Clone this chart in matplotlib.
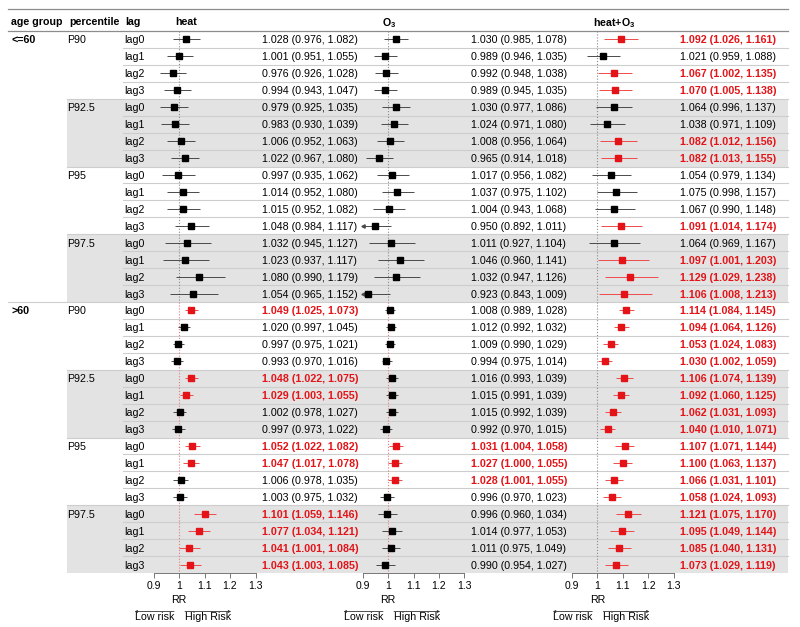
import numpy as np
import matplotlib.pyplot as plt
from matplotlib.patches import Rectangle
from matplotlib.transforms import blended_transform_factory

plt.rcParams['font.family'] = ['Liberation Sans', 'DejaVu Sans']
plt.rcParams['mathtext.fontset'] = 'custom'
plt.rcParams['mathtext.rm'] = 'Liberation Sans'
plt.rcParams['mathtext.bf'] = 'Liberation Sans:bold'

age_groups = ['<=60', '>60']
percentiles = ['P90', 'P92.5', 'P95', 'P97.5']
lags = ['lag0', 'lag1', 'lag2', 'lag3']

# rows: age group -> percentile -> lag
heat_est = [1.028, 1.001, 0.976, 0.994, 0.979, 0.983, 1.006, 1.022,
            0.997, 1.014, 1.015, 1.048, 1.032, 1.023, 1.080, 1.054,
            1.049, 1.020, 0.997, 0.993, 1.048, 1.029, 1.002, 0.997,
            1.052, 1.047, 1.006, 1.003, 1.101, 1.077, 1.041, 1.043]
heat_lo = [0.976, 0.951, 0.926, 0.943, 0.925, 0.930, 0.952, 0.967,
           0.935, 0.952, 0.952, 0.984, 0.945, 0.937, 0.990, 0.965,
           1.025, 0.997, 0.975, 0.970, 1.022, 1.003, 0.978, 0.973,
           1.022, 1.017, 0.978, 0.975, 1.059, 1.034, 1.001, 1.003]
heat_hi = [1.082, 1.055, 1.028, 1.047, 1.035, 1.039, 1.063, 1.080,
           1.062, 1.080, 1.082, 1.117, 1.127, 1.117, 1.179, 1.152,
           1.073, 1.045, 1.021, 1.016, 1.075, 1.055, 1.027, 1.022,
           1.082, 1.078, 1.035, 1.032, 1.146, 1.121, 1.084, 1.085]

o3_est = [1.030, 0.989, 0.992, 0.989, 1.030, 1.024, 1.008, 0.965,
          1.017, 1.037, 1.004, 0.950, 1.011, 1.046, 1.032, 0.923,
          1.008, 1.012, 1.009, 0.994, 1.016, 1.015, 1.015, 0.992,
          1.031, 1.027, 1.028, 0.996, 0.996, 1.014, 1.011, 0.990]
o3_lo = [0.985, 0.946, 0.948, 0.945, 0.977, 0.971, 0.956, 0.914,
         0.956, 0.975, 0.943, 0.892, 0.927, 0.960, 0.947, 0.843,
         0.989, 0.992, 0.990, 0.975, 0.993, 0.991, 0.992, 0.970,
         1.004, 1.000, 1.001, 0.970, 0.960, 0.977, 0.975, 0.954]
o3_hi = [1.078, 1.035, 1.038, 1.035, 1.086, 1.080, 1.064, 1.018,
         1.082, 1.102, 1.068, 1.011, 1.104, 1.141, 1.126, 1.009,
         1.028, 1.032, 1.029, 1.014, 1.039, 1.039, 1.039, 1.015,
         1.058, 1.055, 1.055, 1.023, 1.034, 1.053, 1.049, 1.027]

both_est = [1.092, 1.021, 1.067, 1.070, 1.064, 1.038, 1.082, 1.082,
            1.054, 1.075, 1.067, 1.091, 1.064, 1.097, 1.129, 1.106,
            1.114, 1.094, 1.053, 1.030, 1.106, 1.092, 1.062, 1.040,
            1.107, 1.100, 1.066, 1.058, 1.121, 1.095, 1.085, 1.073]
both_lo = [1.026, 0.959, 1.002, 1.005, 0.996, 0.971, 1.012, 1.013,
           0.979, 0.998, 0.990, 1.014, 0.969, 1.001, 1.029, 1.008,
           1.084, 1.064, 1.024, 1.002, 1.074, 1.060, 1.031, 1.010,
           1.071, 1.063, 1.031, 1.024, 1.075, 1.049, 1.040, 1.029]
both_hi = [1.161, 1.088, 1.135, 1.138, 1.137, 1.109, 1.156, 1.155,
           1.134, 1.157, 1.148, 1.174, 1.167, 1.203, 1.238, 1.213,
           1.145, 1.126, 1.083, 1.059, 1.139, 1.125, 1.093, 1.071,
           1.144, 1.137, 1.101, 1.093, 1.170, 1.144, 1.131, 1.119]

xticks = [0.9, 1.0, 1.1, 1.2, 1.3]
xtick_labels = ['0.9', '1', '1.1', '1.2', '1.3']
xlim = (0.9, 1.3)

RED = '#E41317'
RED_LINE = '#EF4A4A'
BLACK_LINE = '#4A4A4A'
SHADE = '#E3E3E3'
FS = 7.7

W, H = 800, 627
top_px, bot_px = 31, 573
n_rows = len(age_groups) * len(percentiles) * len(lags)
row_px = (bot_px - top_px) / n_rows

fig = plt.figure(figsize=(W / 100, H / 100), dpi=100)

tab = fig.add_axes([0, 1 - bot_px / H, 1, (bot_px - top_px) / H])
tab.set_xlim(0, W)
tab.set_ylim(n_rows - 0.5, -0.5)
tab.axis('off')

def py(p):
    # pixel y -> row units
    return (p - top_px) / row_px - 0.5

right_edge = 788
# shaded percentile groups
for a in range(len(age_groups)):
    for p in (1, 3):
        start = a * 16 + p * 4
        tab.add_patch(Rectangle((66.5, start - 0.5), right_edge - 66.5, 4,
                                facecolor=SHADE, edgecolor='none', zorder=0))

# row separators
for b in range(1, n_rows):
    if b == 16:
        x0 = 8
    elif b % 4 == 0:
        x0 = 66.5
    else:
        x0 = 122.5
    tab.plot([x0, right_edge], [b - 0.5, b - 0.5], color='#CDCDCD', lw=0.8,
             zorder=1, clip_on=False)
tab.plot([8, right_edge], [-0.5, -0.5], color='#8C8C8C', lw=0.9, clip_on=False)
tab.plot([8, right_edge], [py(9.4), py(9.4)], color='#8C8C8C', lw=0.9,
         clip_on=False)

# header
hy = py(20.7)
hkw = dict(fontsize=FS, fontweight='bold', va='center_baseline')
tab.text(11, hy, 'age group', ha='left', **hkw)
tab.text(69, hy, 'percentile', ha='left', **hkw)
tab.text(125, hy, 'lag', ha='left', **hkw)
tab.text(186, hy, 'heat', ha='center', **hkw)
tab.text(389, hy, r'O$_{\mathbf{3}}$', ha='center', **hkw)
tab.text(614, hy, r'heat+O$_{\mathbf{3}}$', ha='center', **hkw)

# label columns
for a, ag in enumerate(age_groups):
    tab.text(11, a * 16, ag, fontsize=FS, fontweight='bold', va='center_baseline')
    for p, pc in enumerate(percentiles):
        tab.text(67, a * 16 + p * 4, pc, fontsize=FS, va='center_baseline')
        for l, lg in enumerate(lags):
            tab.text(124, a * 16 + p * 4 + l, lg, fontsize=FS, va='center_baseline')

series = [
    (heat_est, heat_lo, heat_hi, 153.5, 262, True),
    (o3_est, o3_lo, o3_hi, 362.5, 471, True),
    (both_est, both_lo, both_hi, 571.8, 680, False),
]

for est, lo, hi, ax_x, txt_x, red_ref in series:
    est, lo, hi = np.array(est), np.array(lo), np.array(hi)
    sig = lo >= 1.0

    # estimate text
    for i in range(n_rows):
        s = f'{est[i]:.3f} ({lo[i]:.3f}, {hi[i]:.3f})'
        tab.text(txt_x, i, s, fontsize=FS, va='center_baseline',
                 color=RED if sig[i] else 'black',
                 fontweight='bold' if sig[i] else 'normal', zorder=3)

    ax = fig.add_axes([ax_x / W, 1 - bot_px / H, 102 / W, (bot_px - top_px) / H])
    ax.patch.set_visible(False)
    ax.set_xlim(*xlim)
    ax.set_ylim(n_rows - 0.5, -0.5)
    for side in ('top', 'left', 'right'):
        ax.spines[side].set_visible(False)
    ax.spines['bottom'].set_color('#777777')
    ax.spines['bottom'].set_linewidth(0.7)
    ax.set_yticks([])
    ax.set_xticks(xticks)
    ax.set_xticklabels(xtick_labels)
    ax.tick_params(axis='x', length=3.6, width=0.7, color='#777777', pad=2.2,
                   labelsize=7.5)

    # reference line
    ax.vlines(1.0, -0.5, 15.5, colors='#8A8A8A', linestyles=':', lw=0.8)
    ax.vlines(1.0, 15.5, n_rows - 0.5, colors='#E57A7A' if red_ref else '#8A8A8A',
              linestyles=':', lw=0.8)

    rows = np.arange(n_rows)
    lo_c = np.clip(lo, *xlim)
    hi_c = np.clip(hi, *xlim)
    for i in rows:
        c_line = RED_LINE if sig[i] else BLACK_LINE
        c_mark = RED if sig[i] else 'black'
        ax.hlines(i, lo_c[i], hi_c[i], colors=c_line, lw=0.7, zorder=2)
        if lo[i] < xlim[0]:
            ax.plot(xlim[0], i, marker='<', ms=2.4, color=c_line, clip_on=False,
                    zorder=2)
        ax.plot(est[i], i, marker='s', ms=3.8, color=c_mark, mec=c_mark,
                zorder=3, clip_on=False)

    bt = blended_transform_factory(ax.transData, ax.transAxes)
    span = bot_px - top_px
    ax.text(1.0, -(600 - bot_px) / span, 'RR', transform=bt, ha='center',
            va='center', fontsize=FS)
    ly = -(617 - bot_px) / span
    low = ax.text(1.0 - 5 * 0.4 / 102, ly, 'Low risk', transform=bt, ha='right',
                  va='center', fontsize=FS)
    high = ax.text(1.0 + 6 * 0.4 / 102, ly, 'High Risk', transform=bt, ha='left',
                   va='center', fontsize=FS)
    aprops = dict(arrowstyle='-|>,head_length=0.14,head_width=0.07', lw=0.6,
                  color='#333333', shrinkA=0, shrinkB=0)
    ax.annotate('', xy=(0, 1.05), xycoords=low, xytext=(1, 1.05), textcoords=low,
                arrowprops=aprops)
    ax.annotate('', xy=(1, 1.05), xycoords=high, xytext=(0, 1.05), textcoords=high,
                arrowprops=aprops)

fig.savefig('out.png', dpi=100)
